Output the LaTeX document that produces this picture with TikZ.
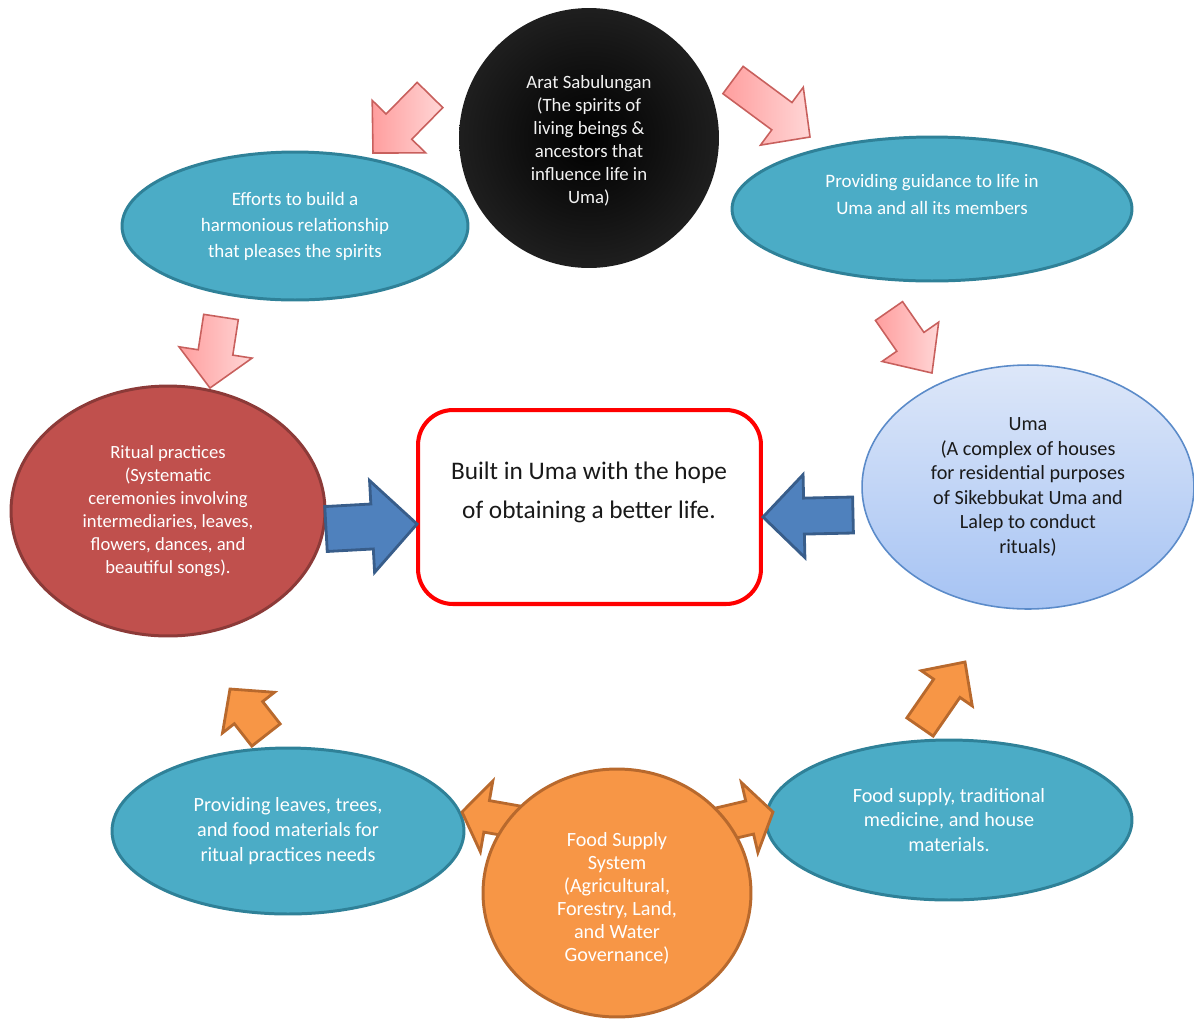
\documentclass[tikz,border=0pt]{standalone}
\usepackage{fontspec}
\setmainfont{Carlito}
\usetikzlibrary{calc,shapes.geometric}
\definecolor{tealF}{HTML}{4BACC6}
\definecolor{tealD}{HTML}{2F8198}
\definecolor{redF}{HTML}{C0504D}
\definecolor{redD}{HTML}{8C3A38}
\definecolor{orF}{HTML}{F79646}
\definecolor{orD}{HTML}{B8692D}
\definecolor{bluF}{HTML}{4F81BD}
\definecolor{bluD}{HTML}{385D8A}
\definecolor{umaT}{HTML}{DDE7F9}
\definecolor{umaB}{HTML}{A6C3F3}
\definecolor{umaD}{HTML}{5B8BC9}
\definecolor{pinkA}{HTML}{FF9E9E}
\definecolor{pinkB}{HTML}{FFD6D6}
\definecolor{pinkD}{HTML}{C8605D}
\definecolor{umaText}{HTML}{1A1A1A}
\newcommand\blockarr[6]{%
  \coordinate (bah) at ($(#3)!#6!(#2)$);
  \draw[#1] ($(#2)!#4!90:(#3)$) -- ($(bah)!#4!90:(#3)$) -- ($(bah)!#5!90:(#3)$) -- (#3)
    -- ($(bah)!#5!-90:(#3)$) -- ($(bah)!#4!-90:(#3)$) -- ($(#2)!#4!-90:(#3)$) -- cycle;}
\begin{document}
\begin{tikzpicture}[x=0.02cm,y=-0.02cm,
  every node/.style={align=center, inner sep=0pt},
  oval/.style={ellipse, line width=1.7pt},
  tealoval/.style={oval, fill=tealF, draw=tealD, text=white},
  smalltext/.style={font=\fontsize{10.7}{13.1}\selectfont},
  pinkarrow/.style={draw=pinkD, line width=0.9pt, left color=pinkA, right color=pinkB},
  bluearrow/.style={draw=bluD, fill=bluF, line width=1.6pt},
  orangearrow/.style={draw=orD, fill=orF, line width=1.6pt}]
\useasboundingbox (0,0) rectangle (1194,1019);

% ---- shapes ----
\node[circle, minimum size=5.2cm, inner color=black, outer color=black!88] (spirit) at (589,138) {};
\node[text=white!95!black, smalltext] (spiritT) at (589,141)
  {Arat Sabulungan\\(The spirits of\\living beings \&\\ancestors that\\influence life in\\Uma)};

\node[tealoval, minimum width=6.92cm, minimum height=2.96cm, font=\fontsize{10.8}{14.8}\selectfont] (efforts) at (295,226)
  {Efforts to build a\\harmonious relationship\\that pleases the spirits};

\node[tealoval, minimum width=8.0cm, minimum height=2.88cm] (guide) at (932,209) {};
\node[text=white, font=\fontsize{10.8}{15.4}\selectfont] (guideT) at (932,194)
  {Providing guidance to life in\\Uma and all its members};

\node[oval, fill=redF, draw=redD, text=white, minimum width=6.28cm, minimum height=5.0cm, font=\fontsize{10.6}{13.1}\selectfont] (ritual) at (168,511)
  {Ritual practices\\(Systematic\\ceremonies involving\\intermediaries, leaves,\\flowers, dances, and\\beautiful songs).};

\node[oval, line width=0.9pt, top color=umaT, bottom color=umaB, draw=umaD, text=umaText, minimum width=6.64cm, minimum height=4.88cm, font=\fontsize{11.5}{14}\selectfont] (uma) at (1028,487)
  {Uma\\(A complex of houses\\for residential purposes\\of Sikebbukat Uma and\\Lalep to conduct\\rituals)};

\node[draw=red, line width=2.3pt, rounded corners=0.7cm, minimum width=6.86cm, minimum height=3.88cm, fill=white] (goal) at (589.5,507) {};
\node[font=\fontsize{14.4}{22.2}\selectfont, text=black!90] (goalT) at (589,492)
  {Built in Uma with the hope\\of obtaining a better life.};

\node[tealoval, minimum width=7.04cm, minimum height=3.32cm, font=\fontsize{11.5}{14.2}\selectfont] (leaves) at (288,831)
  {Providing leaves, trees,\\and food materials for\\ritual practices needs};

\node[tealoval, minimum width=7.32cm, minimum height=3.2cm, font=\fontsize{11.5}{13.8}\selectfont] (supply) at (949,820)
  {Food supply, traditional\\medicine, and house\\materials.};

% ---- arrow coordinates ----
\coordinate (aTail) at (430,95);  \coordinate (aTip) at (373,153);
\coordinate (bTail) at (733,80);  \coordinate (bTip) at (810,137);
\coordinate (cTail) at (221,317); \coordinate (cTip) at (210,388);
\coordinate (dTail) at (889,311); \coordinate (dTip) at (932,373);
\coordinate (eTail) at (326,529); \coordinate (eTip) at (417,524);
\coordinate (fTail) at (853,515); \coordinate (fTip) at (763,517);
\coordinate (gTail) at (266,735); \coordinate (gTip) at (230,689);
\coordinate (hTail) at (920,727); \coordinate (hTip) at (965,662);
\coordinate (iTail) at (530,824); \coordinate (iTip) at (462,812);
\coordinate (jTail) at (705,828); \coordinate (jTip) at (773,812);

% pink arrows
\blockarr{pinkarrow}{aTail}{aTip}{0.36cm}{0.75cm}{0.74cm}
\blockarr{pinkarrow}{bTail}{bTip}{0.34cm}{0.72cm}{0.70cm}
\blockarr{pinkarrow}{cTail}{cTip}{0.35cm}{0.74cm}{0.72cm}
\blockarr{pinkarrow}{dTail}{dTip}{0.33cm}{0.69cm}{0.76cm}
% blue arrows
\blockarr{bluearrow}{eTail}{eTip}{0.45cm}{0.92cm}{0.90cm}
\blockarr{bluearrow}{fTail}{fTip}{0.36cm}{0.83cm}{0.82cm}
% orange arrows
\blockarr{orangearrow}{gTail}{gTip}{0.36cm}{0.66cm}{0.60cm}
\blockarr{orangearrow}{hTail}{hTip}{0.32cm}{0.62cm}{0.64cm}
\blockarr{orangearrow}{iTail}{iTip}{0.32cm}{0.72cm}{0.50cm}
\blockarr{orangearrow}{jTail}{jTip}{0.34cm}{0.72cm}{0.48cm}

\node[oval, fill=orF, draw=orD, minimum width=5.36cm, minimum height=4.96cm] (food) at (617,893) {};
\node[text=white, font=\fontsize{11.5}{13.1}\selectfont] (foodT) at (617,898)
  {Food Supply\\System\\(Agricultural,\\Forestry, Land,\\and Water\\Governance)};
\end{tikzpicture}
\end{document}
